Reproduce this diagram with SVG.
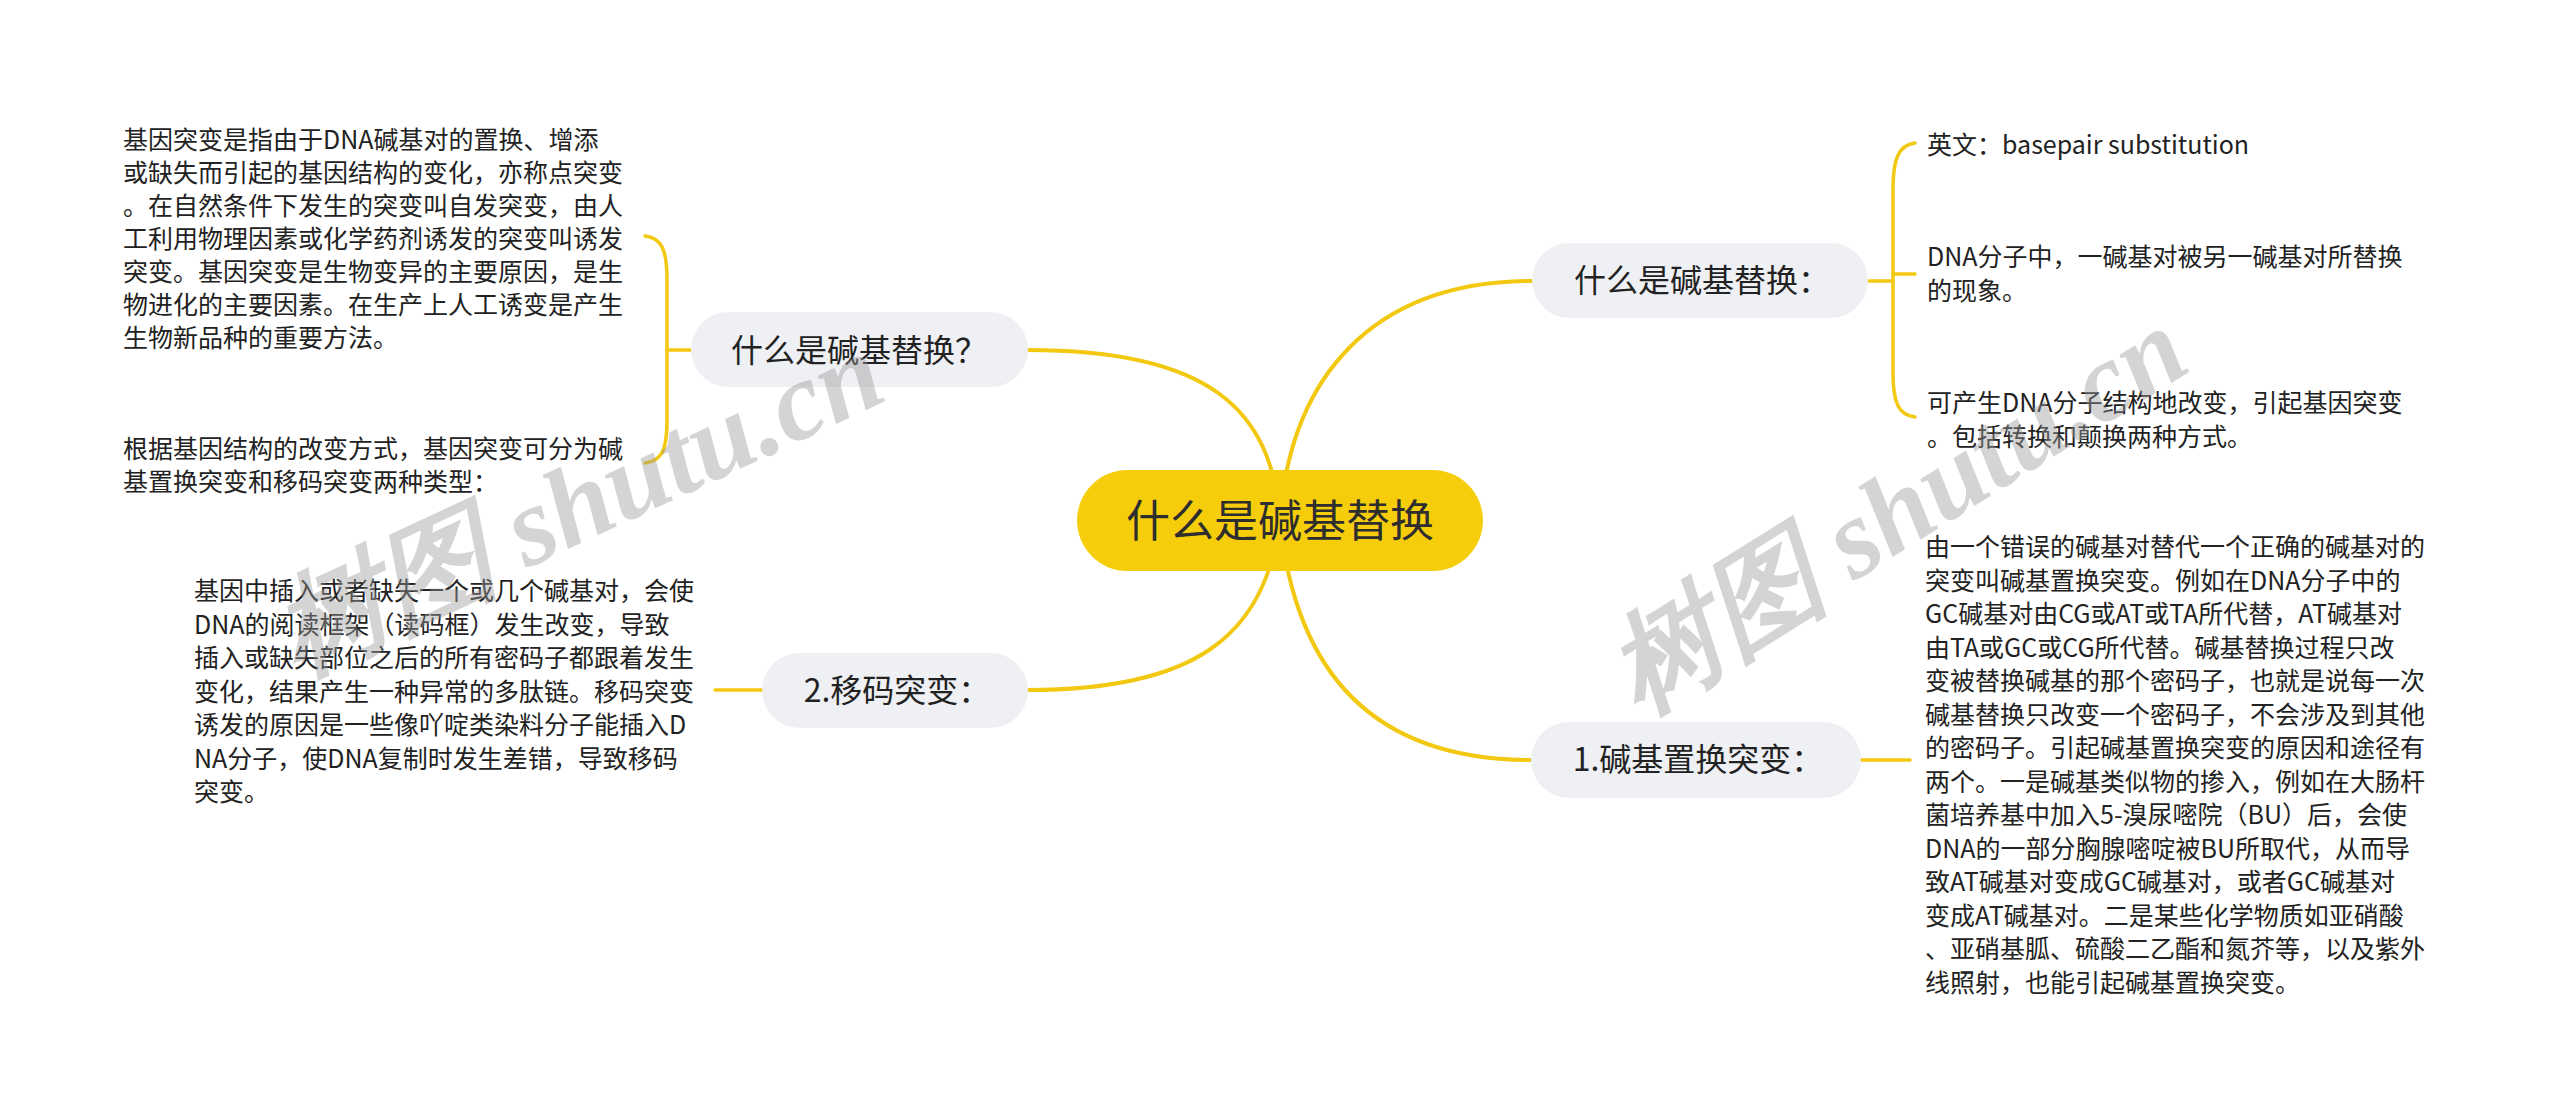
<svg xmlns="http://www.w3.org/2000/svg" width="2560" height="1111" viewBox="0 0 2560 1111">
<style>
.bg{fill:#ffffff}
.link{fill:none;stroke:#f3c811;stroke-width:4;stroke-linecap:round}
.brace{fill:none;stroke:#f3c811;stroke-width:3.5;stroke-linecap:round}
.root{fill:#f6cd0b}
.sub{fill:#eef0f3}
.t{font-family:"Noto Sans CJK SC","Microsoft YaHei",sans-serif;fill:#222}
.rt{font-size:44px;text-anchor:middle;fill:#2e2e2e}
.st{font-size:32px;text-anchor:middle}
.lt{font-size:25px}
.wm{font-family:"Liberation Serif",serif;font-style:italic;font-weight:bold;font-size:112px;fill:#9a9a9a;opacity:0.42}
</style>
<rect class="bg" x="0" y="0" width="2560" height="1111"/>
<g id="connectors">
<path class="link" d="M1280,520 C1272,410 1210,350 1028,350"/>
<path class="link" d="M1280,520 C1290,380 1370,281 1532,281"/>
<path class="link" d="M1280,520 C1265,640 1190,690 1028,690"/>
<path class="link" d="M1280,520 C1295,670 1370,760 1531,760"/>
<path class="brace" d="M645,236 C662,238 667,250 667,280 L667,420 C667,450 662,461 645,463"/>
<line class="brace" x1="667" y1="350" x2="691" y2="350"/>
<path class="brace" d="M1915,143 C1898,145 1893,160 1893,190 L1893,372 C1893,402 1898,415 1915,417"/>
<line class="brace" x1="1868" y1="281" x2="1893" y2="281"/>
<line class="brace" x1="1893" y1="274" x2="1915" y2="274"/>
<line class="brace" x1="715" y1="690" x2="762" y2="690"/>
<line class="brace" x1="1861" y1="760" x2="1910" y2="760"/>
</g>
<g id="root">
<rect class="root" x="1077" y="470" width="406" height="101" rx="50.5"/>
<text class="t rt" x="1280" y="537">什么是碱基替换</text>
</g>
<g id="node-what-q">
<rect class="sub" x="691" y="312" width="337" height="75" rx="37.5"/>
<text class="t st" x="859" y="362">什么是碱基替换？</text>
</g>
<g id="node-frameshift">
<rect class="sub" x="762" y="653" width="266" height="75" rx="37.5"/>
<text class="t st" x="897" y="702">2.移码突变：</text>
</g>
<g id="node-what-colon">
<rect class="sub" x="1532" y="243" width="336" height="75" rx="37.5"/>
<text class="t st" x="1702" y="292">什么是碱基替换：</text>
</g>
<g id="node-substitution">
<rect class="sub" x="1531" y="722" width="330" height="76" rx="38"/>
<text class="t st" x="1698" y="771">1.碱基置换突变：</text>
</g>
<g id="leaf-gene-mutation">
<text class="t lt" x="123" y="149">
<tspan x="123">基因突变是指由于DNA碱基对的置换、增添</tspan>
<tspan x="123" dy="33">或缺失而引起的基因结构的变化，亦称点突变</tspan>
<tspan x="123" dy="33">。在自然条件下发生的突变叫自发突变，由人</tspan>
<tspan x="123" dy="33">工利用物理因素或化学药剂诱发的突变叫诱发</tspan>
<tspan x="123" dy="33">突变。基因突变是生物变异的主要原因，是生</tspan>
<tspan x="123" dy="33">物进化的主要因素。在生产上人工诱变是产生</tspan>
<tspan x="123" dy="33">生物新品种的重要方法。</tspan>
</text>
</g>
<g id="leaf-types">
<text class="t lt" x="123" y="458">
<tspan x="123">根据基因结构的改变方式，基因突变可分为碱</tspan>
<tspan x="123" dy="33">基置换突变和移码突变两种类型：</tspan>
</text>
</g>
<g id="leaf-frameshift">
<text class="t lt" x="194" y="600">
<tspan x="194">基因中插入或者缺失一个或几个碱基对，会使</tspan>
<tspan x="194" dy="33.5">DNA的阅读框架（读码框）发生改变，导致</tspan>
<tspan x="194" dy="33.5">插入或缺失部位之后的所有密码子都跟着发生</tspan>
<tspan x="194" dy="33.5">变化，结果产生一种异常的多肽链。移码突变</tspan>
<tspan x="194" dy="33.5">诱发的原因是一些像吖啶类染料分子能插入D</tspan>
<tspan x="194" dy="33.5">NA分子，使DNA复制时发生差错，导致移码</tspan>
<tspan x="194" dy="33.5">突变。</tspan>
</text>
</g>
<g id="leaf-english">
<text class="t lt" x="1927" y="154">英文：basepair substitution</text>
</g>
<g id="leaf-definition">
<text class="t lt" x="1927" y="266">
<tspan x="1927">DNA分子中，一碱基对被另一碱基对所替换</tspan>
<tspan x="1927" dy="33.5">的现象。</tspan>
</text>
</g>
<g id="leaf-effect">
<text class="t lt" x="1927" y="412">
<tspan x="1927">可产生DNA分子结构地改变，引起基因突变</tspan>
<tspan x="1927" dy="33.5">。包括转换和颠换两种方式。</tspan>
</text>
</g>
<g id="leaf-substitution">
<text class="t lt" x="1925" y="556">
<tspan x="1925">由一个错误的碱基对替代一个正确的碱基对的</tspan>
<tspan x="1925" dy="33.5">突变叫碱基置换突变。例如在DNA分子中的</tspan>
<tspan x="1925" dy="33.5">GC碱基对由CG或AT或TA所代替，AT碱基对</tspan>
<tspan x="1925" dy="33.5">由TA或GC或CG所代替。碱基替换过程只改</tspan>
<tspan x="1925" dy="33.5">变被替换碱基的那个密码子，也就是说每一次</tspan>
<tspan x="1925" dy="33.5">碱基替换只改变一个密码子，不会涉及到其他</tspan>
<tspan x="1925" dy="33.5">的密码子。引起碱基置换突变的原因和途径有</tspan>
<tspan x="1925" dy="33.5">两个。一是碱基类似物的掺入，例如在大肠杆</tspan>
<tspan x="1925" dy="33.5">菌培养基中加入5-溴尿嘧院（BU）后，会使</tspan>
<tspan x="1925" dy="33.5">DNA的一部分胸腺嘧啶被BU所取代，从而导</tspan>
<tspan x="1925" dy="33.5">致AT碱基对变成GC碱基对，或者GC碱基对</tspan>
<tspan x="1925" dy="33.5">变成AT碱基对。二是某些化学物质如亚硝酸</tspan>
<tspan x="1925" dy="33.5">、亚硝基胍、硫酸二乙酯和氮芥等，以及紫外</tspan>
<tspan x="1925" dy="33.5">线照射，也能引起碱基置换突变。</tspan>
</text>
</g>
<g id="watermark">
<text class="wm" transform="translate(298,675) rotate(-25)">树图 shutu.cn</text>
<text class="wm" transform="translate(1640,715) rotate(-32)">树图 shutu.cn</text>
</g>
</svg>
